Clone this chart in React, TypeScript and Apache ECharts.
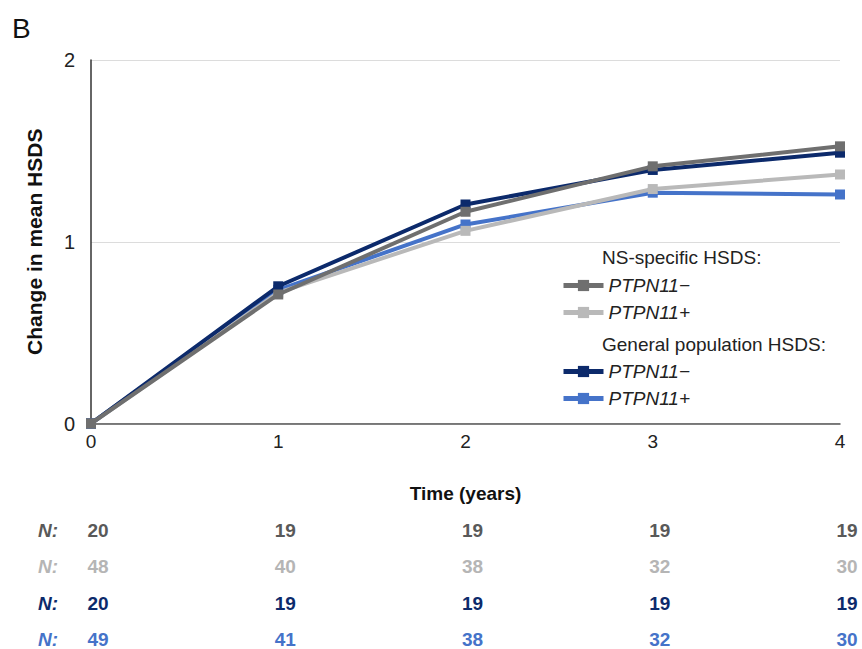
import React, { useEffect, useRef } from "react";
import * as echarts from "echarts";

const years = [0, 1, 2, 3, 4];
const yTicks = [0, 1, 2];

const nsMinus = [0, 0.71, 1.165, 1.415, 1.525];
const nsPlus = [0, 0.72, 1.06, 1.29, 1.37];
const gpMinus = [0, 0.755, 1.205, 1.395, 1.49];
const gpPlus = [0, 0.735, 1.095, 1.27, 1.26];

const nsMinusN = [20, 19, 19, 19, 19];
const nsPlusN = [48, 40, 38, 32, 30];
const gpMinusN = [20, 19, 19, 19, 19];
const gpPlusN = [49, 41, 38, 32, 30];

const C_NSM = "#6f6f6f";
const C_NSP = "#b9b9b9";
const C_GPM = "#0c2a6b";
const C_GPP = "#4573c9";

const FONT = "'Liberation Sans', Arial, sans-serif";

const legendLabel: Record<string, string> = {
  "NS−": "PTPN11−",
  "NS+": "PTPN11+",
  "GP−": "PTPN11−",
  "GP+": "PTPN11+",
};

export default function App() {
  const ref = useRef<HTMLDivElement>(null);
  useEffect(() => {
    if (!ref.current) return;
    const chart = echarts.init(ref.current, undefined, { renderer: "svg" });
    const pairs = (arr: number[]) => years.map((x, i) => [x, arr[i]]);
    const nAxis = (vals: number[], color: string, offset: number) => ({
      type: "value",
      gridIndex: 0,
      position: "bottom",
      offset,
      min: 0,
      max: 4,
      interval: 1,
      axisLine: { show: false },
      axisTick: { show: false },
      splitLine: { show: false },
      name: "N:",
      nameLocation: "start",
      nameGap: 33,
      nameTextStyle: {
        color,
        fontFamily: FONT,
        fontStyle: "italic",
        fontWeight: "bold",
        fontSize: 19,
        verticalAlign: "middle",
      },
      axisLabel: {
        margin: 0,
        verticalAlign: "middle",
        color,
        fontFamily: FONT,
        fontWeight: "bold",
        fontSize: 19,
        padding: [0, 0, 0, 14],
        formatter: (v: number) => {
          const i = years.indexOf(v);
          return i >= 0 ? String(vals[i]) : "";
        },
      },
    });
    const mkSeries = (name: string, data: number[], color: string, z: number) => ({
      type: "line",
      name,
      data: pairs(data),
      symbol: "rect",
      symbolSize: 10,
      z,
      itemStyle: { color },
      lineStyle: { color, width: 4 },
    });
    const legendBase = {
      orient: "vertical",
      left: 556,
      itemWidth: 40,
      itemHeight: 14,
      itemGap: 6,
      lineStyle: { width: 5 },
      formatter: (n: string) => legendLabel[n] || n,
      textStyle: {
        fontFamily: FONT,
        fontSize: 19,
        fontStyle: "italic",
        fontWeight: "normal",
        color: "#222",
        lineHeight: 21,
      },
    };
    chart.setOption({
      animation: false,
      backgroundColor: "#fff",
      grid: { left: 91, right: 22, top: 60, bottom: 225, containLabel: false },
      xAxis: [
        {
          type: "value",
          min: 0,
          max: 4,
          interval: 1,
          axisLine: { lineStyle: { color: "#555", width: 1.5 } },
          axisTick: { show: false },
          splitLine: { show: false },
          axisLabel: { color: "#222", fontFamily: FONT, fontSize: 19, margin: 8 },
          name: "Time (years)",
          nameLocation: "middle",
          nameGap: 60,
          nameTextStyle: { color: "#111", fontFamily: FONT, fontWeight: "bold", fontSize: 19 },
        },
        nAxis(nsMinusN, "#595959", 107),
        nAxis(nsPlusN, "#b5b5b5", 143),
        nAxis(gpMinusN, "#0c2a6b", 180),
        nAxis(gpPlusN, "#4573c9", 216),
      ],
      yAxis: {
        type: "value",
        min: yTicks[0],
        max: yTicks[yTicks.length - 1],
        interval: 1,
        axisLine: { show: true, lineStyle: { color: "#333", width: 1.5 } },
        axisTick: { show: false },
        splitLine: { lineStyle: { color: "#dcdcdc", width: 1 } },
        axisLabel: { color: "#222", fontFamily: FONT, fontSize: 20, margin: 16 },
        name: "Change in mean HSDS",
        nameLocation: "middle",
        nameGap: 46,
        nameTextStyle: { color: "#111", fontFamily: FONT, fontWeight: "bold", fontSize: 21 },
      },
      legend: [
        { ...legendBase, top: 270, data: ["NS−", "NS+"] },
        { ...legendBase, top: 356, data: ["GP−", "GP+"] },
      ],
      graphic: [
        {
          type: "text",
          left: 12,
          top: 14,
          style: { text: "B", fontFamily: FONT, fontSize: 28, fill: "#111" },
        },
        {
          type: "text",
          left: 602,
          top: 248,
          style: { text: "NS-specific HSDS:", fontFamily: FONT, fontSize: 19, fill: "#222" },
        },
        {
          type: "text",
          left: 602,
          top: 335,
          style: { text: "General population HSDS:", fontFamily: FONT, fontSize: 19, fill: "#222" },
        },
      ],
      series: [
        mkSeries("GP+", gpPlus, C_GPP, 2),
        mkSeries("NS+", nsPlus, C_NSP, 3),
        mkSeries("GP−", gpMinus, C_GPM, 4),
        mkSeries("NS−", nsMinus, C_NSM, 5),
      ],
    });
    return () => chart.dispose();
  }, []);
  return (
    <div
      ref={ref}
      style={{ position: "fixed", left: 0, top: 0, width: 862, height: 649 }}
    />
  );
}
